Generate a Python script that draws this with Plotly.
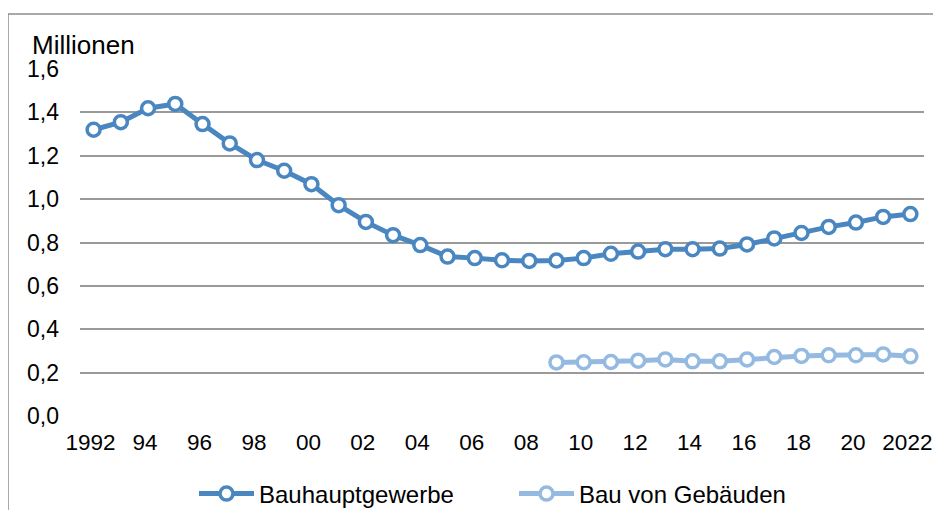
import plotly.graph_objects as go

years = list(range(1992, 2023))
bauhaupt = [1.320, 1.355, 1.419, 1.439, 1.346, 1.257, 1.180, 1.131, 1.069, 0.972,
            0.895, 0.834, 0.788, 0.735, 0.728, 0.718, 0.715, 0.717, 0.728, 0.748,
            0.758, 0.769, 0.769, 0.772, 0.791, 0.819, 0.844, 0.872, 0.892, 0.918, 0.931]
geb_years = list(range(2009, 2023))
gebaeude = [0.247, 0.248, 0.249, 0.255, 0.261, 0.252, 0.252, 0.261, 0.272, 0.277,
            0.280, 0.280, 0.284, 0.275]
tick_vals = list(range(1992, 2023, 2))
tick_text = ["1992", "94", "96", "98", "00", "02", "04", "06", "08", "10",
             "12", "14", "16", "18", "20", "2022"]

FONT = "Liberation Sans, Arial, sans-serif"
C1 = "#4A87C0"
C2 = "#95BAE2"

fig = go.Figure()
fig.add_trace(go.Scatter(
    x=years, y=bauhaupt, name="Bauhauptgewerbe", mode="lines+markers",
    line=dict(color=C1, width=5),
    marker=dict(symbol="circle", size=13, color="white", line=dict(color=C1, width=3.5)),
))
fig.add_trace(go.Scatter(
    x=geb_years, y=gebaeude, name="Bau von Gebäuden", mode="lines+markers",
    line=dict(color=C2, width=5),
    marker=dict(symbol="circle", size=13, color="white", line=dict(color=C2, width=3.5)),
))

# page body has an 8px margin; keep the figure inside the viewport
OFF = 8
W, H = 925, 502
L, T = 80 - OFF, 69 - OFF
pw, ph = 844, 347
R = W - L - pw
B = H - T - ph

def px_x(p):
    return (p - OFF - L) / pw

def px_y(p):
    return (T + ph - (p - OFF)) / ph

fig.update_layout(
    width=W, height=H,
    margin=dict(l=L, r=R, t=T, b=B, pad=0, autoexpand=False),
    paper_bgcolor="white", plot_bgcolor="white",
    separators=",.",
    font=dict(family=FONT, size=23, color="black"),
    showlegend=True,
    legend=dict(orientation="h", x=px_x(194), xanchor="left", y=px_y(494), yanchor="middle",
                font=dict(size=24, family=FONT, color="black"), itemwidth=55,
                entrywidth=250, bgcolor="rgba(0,0,0,0)"),
    xaxis=dict(range=[1991.5, 2022.5], tickmode="array", tickvals=tick_vals, ticktext=tick_text,
               showgrid=False, zeroline=False, showline=False, ticks="", ticklabelstandoff=10,
               ticklabelshift=-3, ticklabeloverflow="allow", automargin=False,
               tickfont=dict(size=22.5, family=FONT, color="black")),
    yaxis=dict(range=[0, 1.6], tick0=0, dtick=0.2, tickformat=".1f",
               showgrid=True, gridcolor="#9A9A9A", gridwidth=1.5, automargin=False,
               zeroline=False, showline=False, ticks="", ticklabelstandoff=20,
               tickfont=dict(size=23, family=FONT, color="black")),
    annotations=[dict(text="Millionen", xref="paper", yref="paper", x=px_x(30), y=px_y(45),
                      xanchor="left", yanchor="middle", showarrow=False,
                      font=dict(size=26, family=FONT, color="black"))],
    shapes=[
        dict(type="line", xref="paper", yref="paper", x0=px_x(8), x1=px_x(960),
             y0=px_y(14), y1=px_y(14), line=dict(color="#8C8C8C", width=1.5)),
        dict(type="line", xref="paper", yref="paper", x0=px_x(8), x1=px_x(8),
             y0=px_y(14), y1=px_y(540), line=dict(color="#8C8C8C", width=1.5)),
    ],
)

fig.write_html("out.html")
